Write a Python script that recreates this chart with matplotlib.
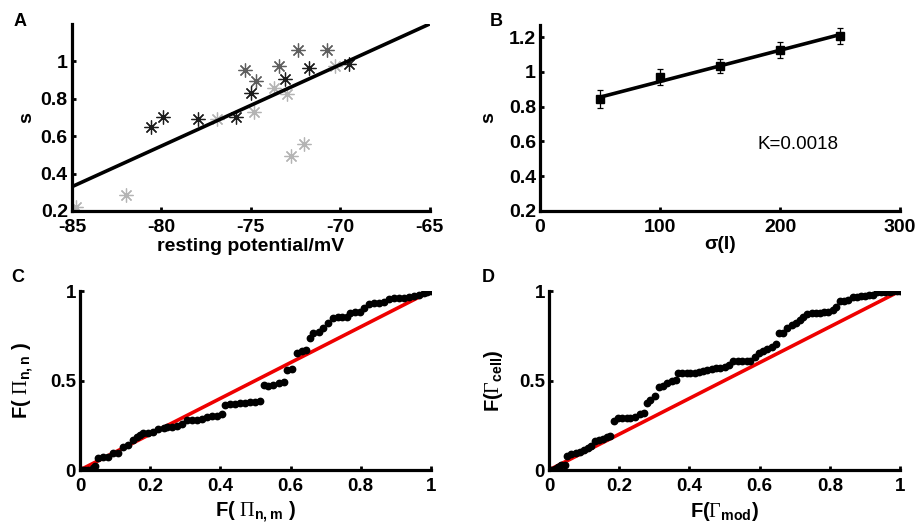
from matplotlib import pyplot as plt
import matplotlib
import numpy as np

matplotlib.rcParams['font.family'] = ['Liberation Sans', 'DejaVu Sans']
matplotlib.rcParams['font.weight'] = 'bold'
matplotlib.rcParams['axes.labelweight'] = 'bold'
matplotlib.rcParams['mathtext.fontset'] = 'custom'
matplotlib.rcParams['mathtext.rm'] = 'Liberation Serif:normal'
matplotlib.rcParams['mathtext.bf'] = 'Liberation Sans:bold'

# panel A: s vs resting potential, three groups of cells (dark / mid / light grey)
a_dark_x = [-80.57, -79.9, -77.93, -75.8, -75.0, -73.1, -71.77, -69.5]
a_dark_y = [0.65, 0.70, 0.69, 0.70, 0.83, 0.905, 0.965, 0.985]
a_mid_x = [-75.3, -74.7, -73.45, -72.35, -70.73]
a_mid_y = [0.955, 0.895, 0.975, 1.06, 1.06]
a_light_x = [-84.8, -81.97, -76.9, -74.8, -73.7, -73.0, -72.76, -72.0, -70.3]
a_light_y = [0.22, 0.285, 0.69, 0.73, 0.86, 0.825, 0.495, 0.56, 0.975]
a_fit_x = [-85, -65]
a_fit_y = [0.33, 1.20]

# panel B: s vs sigma(I)
b_sigma = [50, 100, 150, 200, 250]
b_s = [0.845, 0.972, 1.035, 1.125, 1.208]
b_err = [0.05, 0.046, 0.042, 0.045, 0.045]
b_k = 0.0018
b_intercept = 0.765

# panel C: F(Pi_n,m) vs F(Pi_n,n)
c_x = [0.005, 0.014, 0.024, 0.038, 0.043, 0.052, 0.067, 0.081, 0.095, 0.109,
       0.124, 0.138, 0.152, 0.162, 0.171, 0.181, 0.195, 0.209, 0.223, 0.238,
       0.247, 0.261, 0.276, 0.290, 0.304, 0.318, 0.333, 0.347, 0.361, 0.375,
       0.390, 0.404, 0.414, 0.428, 0.442, 0.456, 0.471, 0.485, 0.499, 0.513,
       0.523, 0.537, 0.551, 0.566, 0.580, 0.591, 0.604, 0.618, 0.632, 0.644,
       0.656, 0.665, 0.680, 0.692, 0.708, 0.721, 0.734, 0.746, 0.760, 0.770,
       0.784, 0.797, 0.808, 0.822, 0.837, 0.851, 0.865, 0.879, 0.894, 0.908,
       0.922, 0.936, 0.951, 0.965, 0.979, 0.989, 1.0]
c_y = [0.0, 0.0, 0.0, 0.009, 0.022, 0.065, 0.074, 0.074, 0.097, 0.097,
       0.130, 0.140, 0.168, 0.186, 0.196, 0.205, 0.209, 0.214, 0.227, 0.236,
       0.242, 0.242, 0.248, 0.257, 0.279, 0.279, 0.279, 0.283, 0.298, 0.304,
       0.304, 0.313, 0.363, 0.367, 0.367, 0.372, 0.376, 0.382, 0.382, 0.385,
       0.475, 0.471, 0.475, 0.484, 0.493, 0.559, 0.562, 0.652, 0.667, 0.670,
       0.739, 0.764, 0.773, 0.791, 0.819, 0.847, 0.857, 0.857, 0.857, 0.875,
       0.885, 0.885, 0.903, 0.927, 0.931, 0.931, 0.940, 0.955, 0.963, 0.963,
       0.963, 0.965, 0.972, 0.978, 0.987, 0.996, 1.0]

# panel D: F(Gamma_mod) vs F(Gamma_cell)
d_x = [0.007, 0.016, 0.026, 0.035, 0.045, 0.051, 0.064, 0.076, 0.087, 0.099,
       0.111, 0.121, 0.130, 0.143, 0.154, 0.165, 0.175, 0.184, 0.197, 0.209,
       0.221, 0.232, 0.244, 0.259, 0.270, 0.279, 0.289, 0.301, 0.314, 0.325,
       0.337, 0.349, 0.361, 0.368, 0.380, 0.392, 0.403, 0.415, 0.428, 0.439,
       0.451, 0.463, 0.475, 0.487, 0.501, 0.513, 0.525, 0.539, 0.551, 0.563,
       0.574, 0.587, 0.599, 0.610, 0.622, 0.634, 0.646, 0.656, 0.667, 0.679,
       0.691, 0.703, 0.715, 0.724, 0.736, 0.748, 0.760, 0.772, 0.783, 0.796,
       0.808, 0.817, 0.829, 0.840, 0.853, 0.865, 0.876, 0.888, 0.900, 0.913,
       0.924, 0.933, 0.945, 0.957, 0.970, 0.981, 0.992, 1.0]
d_y = [0.0, 0.006, 0.019, 0.028, 0.028, 0.078, 0.088, 0.093, 0.102, 0.112,
       0.121, 0.134, 0.164, 0.168, 0.171, 0.182, 0.190, 0.276, 0.289, 0.289,
       0.289, 0.289, 0.298, 0.311, 0.317, 0.372, 0.391, 0.413, 0.462, 0.469,
       0.484, 0.499, 0.503, 0.544, 0.544, 0.544, 0.544, 0.544, 0.547, 0.555,
       0.559, 0.564, 0.568, 0.568, 0.577, 0.587, 0.609, 0.609, 0.611, 0.611,
       0.611, 0.629, 0.652, 0.665, 0.678, 0.689, 0.704, 0.764, 0.767, 0.791,
       0.810, 0.823, 0.838, 0.853, 0.870, 0.875, 0.875, 0.875, 0.881, 0.885,
       0.894, 0.912, 0.946, 0.946, 0.950, 0.965, 0.968, 0.972, 0.972, 0.978,
       0.978, 0.996, 0.996, 0.996, 0.996, 0.998, 0.998, 1.0]

fig = plt.figure(figsize=(9.17, 5.32), dpi=100)
ax_a = fig.add_axes([0.0785, 0.6034, 0.390, 0.3515])
ax_b = fig.add_axes([0.589, 0.6034, 0.3926, 0.3496])
ax_c = fig.add_axes([0.0872, 0.1165, 0.3828, 0.3365])
ax_d = fig.add_axes([0.5987, 0.1165, 0.3828, 0.3365])


def style(ax, fs):
    for s in ['top', 'right']:
        ax.spines[s].set_visible(False)
    for s in ['left', 'bottom']:
        ax.spines[s].set_linewidth(2.3)
    ax.tick_params(direction='in', length=3, width=2, labelsize=fs)
    ax.tick_params(axis='x', pad=6)
    ax.tick_params(axis='y', pad=3)
    for t in ax.get_xticklabels() + ax.get_yticklabels():
        t.set_fontweight('bold')


# A
star = (8, 2, 0)
ax_a.plot(a_light_x, a_light_y, linestyle='none', marker=star, ms=10, mew=0.9, color='#b4b4b4')
ax_a.plot(a_mid_x, a_mid_y, linestyle='none', marker=star, ms=10, mew=0.9, color='#5e5e5e')
ax_a.plot(a_dark_x, a_dark_y, linestyle='none', marker=star, ms=10, mew=0.9, color='#1c1c1c')
ax_a.plot(a_fit_x, a_fit_y, color='black', linewidth=2.6, zorder=5, solid_capstyle='butt')
ax_a.set_xlim(-85, -65)
ax_a.set_ylim(0.2, 1.2)
ax_a.set_xticks([-85, -80, -75, -70, -65])
ax_a.set_xticklabels(['-85', '-80', '-75', '-70', '-65'])
ax_a.set_yticks([0.2, 0.4, 0.6, 0.8, 1.0])
ax_a.set_yticklabels(['0.2', '0.4', '0.6', '0.8', '1'])
ax_a.set_xlabel('resting potential/mV', fontsize=14, labelpad=1)
ax_a.set_ylabel('s', fontsize=14, labelpad=4)
style(ax_a, 14)

# B
fit_x = np.array([b_sigma[0], b_sigma[-1]])
ax_b.plot(fit_x, b_intercept + b_k * fit_x, color='black', linewidth=2.6)
ax_b.errorbar(b_sigma, b_s, yerr=b_err, fmt='s', color='black', ms=6, elinewidth=0.9,
              capsize=2.5, capthick=0.9)
ax_b.text(181, 0.585, 'K=%.4f' % b_k, fontsize=13.5, fontweight='normal', va='center', ha='left')
ax_b.set_xlim(0, 300)
ax_b.set_ylim(0.2, 1.27)
ax_b.set_xticks([0, 100, 200, 300])
ax_b.set_yticks([0.2, 0.4, 0.6, 0.8, 1.0, 1.2])
ax_b.set_yticklabels(['0.2', '0.4', '0.6', '0.8', '1', '1.2'])
ax_b.set_xlabel('σ(I)', fontsize=14, labelpad=0)
ax_b.set_ylabel('s', fontsize=14, labelpad=8)
style(ax_b, 14)

# C and D
for ax, xs, ys in [(ax_c, c_x, c_y), (ax_d, d_x, d_y)]:
    ax.plot([0, 1], [0, 1], color='#ee0000', linewidth=2.6, zorder=3)
    ax.plot(xs, ys, linestyle='none', marker='o', ms=4.6, color='black', zorder=4)
    ax.set_xlim(0, 1)
    ax.set_ylim(0, 1)
    ax.set_xticks([0, 0.2, 0.4, 0.6, 0.8, 1])
    ax.set_xticklabels(['0', '0.2', '0.4', '0.6', '0.8', '1'])
    ax.set_yticks([0, 0.5, 1])
    ax.set_yticklabels(['0', '0.5', '1'])
    style(ax, 13.5)

ax_c.set_xlabel(r'F( $\Pi_{\mathbf{n,m}}$ )', fontsize=14.5, labelpad=3)
ax_c.set_ylabel(r'F( $\Pi_{\mathbf{n,n}}$ )', fontsize=14.5, labelpad=10)
ax_d.set_xlabel(r'F($\Gamma_{\mathbf{mod}}$)', fontsize=14.5, labelpad=3)
ax_d.set_ylabel(r'F($\Gamma_{\mathbf{cell}}$)', fontsize=14.5, labelpad=10)

for lab, x, y in [('A', 0.0218, 0.9605), ('B', 0.541, 0.9605), ('C', 0.0196, 0.479), ('D', 0.532, 0.479)]:
    fig.text(x, y, lab, fontsize=13, fontweight='bold', ha='center', va='center')

plt.savefig('out.png', dpi=100)
